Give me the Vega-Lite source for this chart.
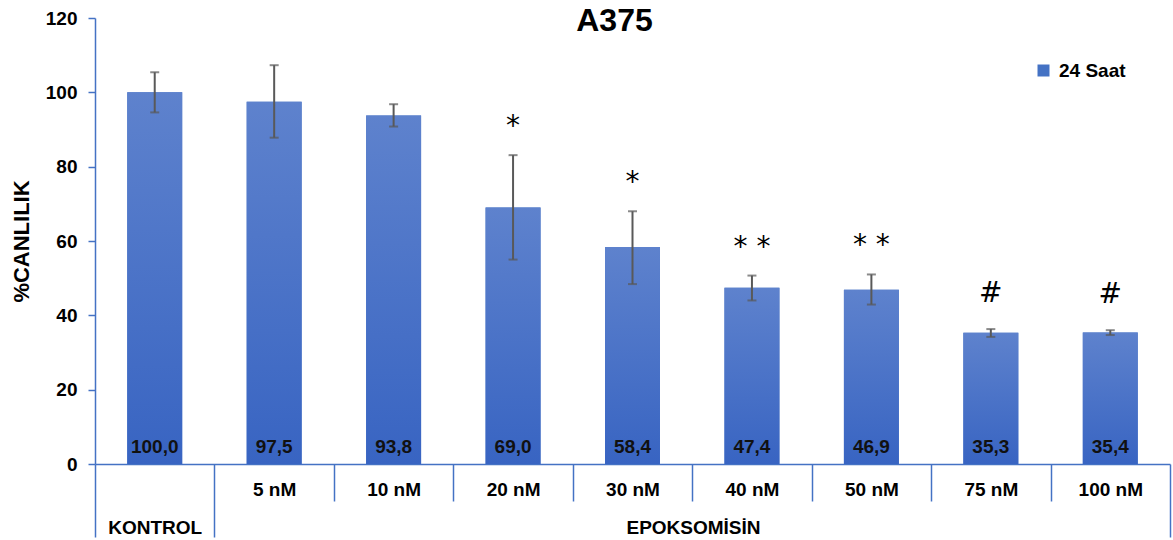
{
  "$schema": "https://vega.github.io/schema/vega-lite/v6.json",
  "autosize": "none",
  "width": 1075,
  "height": 446,
  "padding": {"left": 95, "top": 18, "right": 3, "bottom": 76},
  "background": "white",
  "title": {"text": "A375", "fontSize": 32, "font": "Liberation Sans", "fontWeight": "bold", "anchor": "middle", "dx": -18, "dy": 14, "offset": -40, "baseline": "alphabetic", "frame": "group", "color": "#000000"},
  "config": {
    "view": {"stroke": null},
    "locale": {"number": {"decimal": ",", "thousands": ".", "grouping": [3], "currency": ["", " €"]}},
    "font": "Liberation Sans"
  },
  "data": {
    "values": [
      {"cat": "KONTROL", "value": 100.0, "lo": 94.6, "hi": 105.4, "sig": ""},
      {"cat": "5 nM", "value": 97.5, "lo": 87.8, "hi": 107.3, "sig": ""},
      {"cat": "10 nM", "value": 93.8, "lo": 90.8, "hi": 96.8, "sig": ""},
      {"cat": "20 nM", "value": 69.0, "lo": 55.0, "hi": 83.1, "sig": "*"},
      {"cat": "30 nM", "value": 58.4, "lo": 48.4, "hi": 68.0, "sig": "*"},
      {"cat": "40 nM", "value": 47.4, "lo": 44.0, "hi": 50.7, "sig": "* *"},
      {"cat": "50 nM", "value": 46.9, "lo": 42.9, "hi": 51.0, "sig": "* *"},
      {"cat": "75 nM", "value": 35.3, "lo": 34.2, "hi": 36.3, "sig": "#"},
      {"cat": "100 nM", "value": 35.4, "lo": 34.7, "hi": 36.0, "sig": "#"}
    ]
  },
  "encoding": {
    "x": {
      "field": "cat", "type": "nominal", "sort": null,
      "scale": {"paddingInner": 0, "paddingOuter": 0},
      "axis": {
        "title": "EPOKSOMİSİN", "titleX": 598, "titleY": 63, "titleBaseline": "middle", "titleAlign": "center", "titleAngle": 0,
        "titleFontSize": 19, "titleFont": "Liberation Sans", "titleFontWeight": "bold", "titleColor": "#000000",
        "labelAngle": 0, "labelBaseline": "middle", "labelFontSize": 19, "labelFont": "Liberation Sans", "labelFontWeight": "bold", "labelColor": "#000000",
        "labelPadding": {"condition": [{"test": "datum.value === 'KONTROL'", "value": -10}, {"test": "datum.value === '100 nM'", "value": -48}], "value": -12},
        "domainColor": "#4472C4", "domainWidth": 1.5, "tickColor": "#4472C4", "tickWidth": 1.5, "tickBand": "extent",
        "tickSize": {"condition": {"test": "datum.index < 0 || datum.value === 'KONTROL' || datum.value === '100 nM'", "value": 73}, "value": 37},
        "labelOverlap": false
      }
    }
  },
  "layer": [
    {
      "mark": {"type": "bar", "width": {"band": 0.46}},
      "encoding": {
        "y": {"field": "value", "type": "quantitative", "scale": {"domain": [0, 120], "nice": false},
          "axis": {"title": "%CANLILIK", "values": [0, 20, 40, 60, 80, 100, 120], "grid": false,
            "domainColor": "#4472C4", "domainWidth": 1.5, "tickColor": "#4472C4", "tickWidth": 1.5, "tickSize": 7, "labelPadding": 11,
            "labelFontSize": 19, "labelFont": "Liberation Sans", "labelFontWeight": "bold", "labelColor": "#000000",
            "titleFontSize": 22, "titleFont": "Liberation Sans", "titleFontWeight": "bold", "titleColor": "#000000", "titlePadding": 12}},
        "color": {"datum": "24 Saat", "type": "nominal", "scale": {"range": ["#4472C4"]},
          "legend": {"title": null, "orient": "none", "legendX": 939, "legendY": 43, "symbolType": "square", "symbolSize": 144, "symbolStrokeWidth": 0,
            "labelFontSize": 19, "labelFont": "Liberation Sans", "labelFontWeight": "bold", "labelColor": "#000000", "labelOffset": 6, "padding": 0}}
      }
    },
    {
      "mark": {"type": "bar", "width": {"band": 0.46}, "fill": {"gradient": "linear", "x1": 0, "y1": 0, "x2": 0, "y2": 1, "stops": [{"offset": 0, "color": "#5E82CD"}, {"offset": 1, "color": "#3864C2"}]}},
      "encoding": {"y": {"field": "value", "type": "quantitative"}}
    },
    {
      "mark": {"type": "rule", "color": "#595959", "strokeWidth": 2},
      "encoding": {"y": {"field": "lo", "type": "quantitative"}, "y2": {"field": "hi"}}
    },
    {
      "mark": {"type": "tick", "color": "#595959", "thickness": 2, "size": 9},
      "encoding": {"y": {"field": "lo", "type": "quantitative"}}
    },
    {
      "mark": {"type": "tick", "color": "#595959", "thickness": 2, "size": 9},
      "encoding": {"y": {"field": "hi", "type": "quantitative"}}
    },
    {
      "mark": {"type": "text", "fontSize": 19, "font": "Liberation Sans", "fontWeight": "bold", "color": "#111111", "baseline": "middle", "dy": -17},
      "encoding": {"y": {"datum": 0, "type": "quantitative"}, "text": {"field": "value", "type": "quantitative", "format": ".1f"}}
    },
    {
      "mark": {"type": "text", "fontSize": 28, "font": "DejaVu Sans", "color": "#000000", "baseline": "middle", "dy": {"expr": "datum.sig === '#' ? -35 : -28"}},
      "encoding": {"y": {"field": "hi", "type": "quantitative"}, "text": {"field": "sig", "type": "nominal"}}
    }
  ]
}
